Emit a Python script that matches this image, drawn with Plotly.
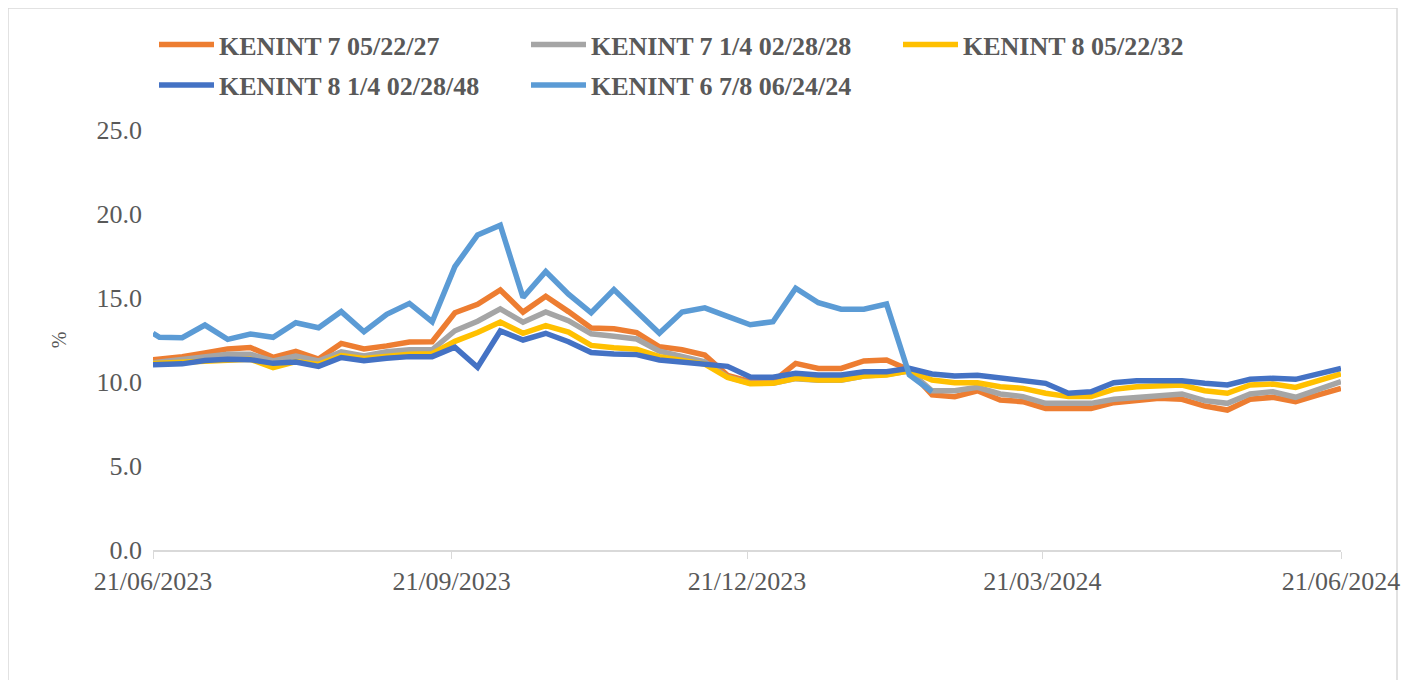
import plotly.graph_objects as go

# ---------------- data ----------------
dates = [
    "2023-06-21", "2023-06-23", "2023-06-30", "2023-07-07", "2023-07-14", "2023-07-21",
    "2023-07-28", "2023-08-04", "2023-08-11", "2023-08-18", "2023-08-25", "2023-09-01",
    "2023-09-08", "2023-09-15", "2023-09-22", "2023-09-29", "2023-10-06", "2023-10-13",
    "2023-10-20", "2023-10-27", "2023-11-03", "2023-11-10", "2023-11-17", "2023-11-24",
    "2023-12-01", "2023-12-08", "2023-12-15", "2023-12-22", "2023-12-29", "2024-01-05",
    "2024-01-12", "2024-01-19", "2024-01-26", "2024-02-02", "2024-02-09", "2024-02-16",
    "2024-02-23", "2024-03-01", "2024-03-08", "2024-03-15", "2024-03-22", "2024-03-29",
    "2024-04-05", "2024-04-12", "2024-04-19", "2024-04-26", "2024-05-03", "2024-05-10",
    "2024-05-17", "2024-05-24", "2024-05-31", "2024-06-07", "2024-06-14", "2024-06-21",
]

kenint_7_27 = [
    11.33, 11.37, 11.50, 11.73, 11.97, 12.05, 11.47, 11.83, 11.37, 12.30, 11.97, 12.15,
    12.38, 12.40, 14.12, 14.63, 15.48, 14.16, 15.10, 14.19, 13.21, 13.17, 12.94, 12.10,
    11.92, 11.60, 10.40, 10.02, 10.02, 11.11, 10.81, 10.81, 11.25, 11.31, 10.71, 9.23,
    9.13, 9.48, 8.93, 8.83, 8.43, 8.43, 8.43, 8.77, 8.93, 9.03, 8.97, 8.57,
    8.33, 8.97, 9.09, 8.83, 9.23, 9.62,
]
kenint_714_28 = [
    11.15, 11.20, 11.30, 11.55, 11.65, 11.65, 11.25, 11.55, 11.25, 11.80, 11.55, 11.80,
    11.92, 11.92, 13.05, 13.62, 14.35, 13.56, 14.17, 13.65, 12.87, 12.73, 12.56, 11.84,
    11.55, 11.20, 10.30, 9.92, 9.92, 10.20, 10.10, 10.10, 10.35, 10.45, 10.65, 9.48,
    9.48, 9.68, 9.29, 9.13, 8.73, 8.73, 8.73, 8.97, 9.09, 9.23, 9.29, 8.89,
    8.73, 9.29, 9.42, 9.09, 9.56, 10.02,
]
kenint_8_32 = [
    11.10, 11.12, 11.15, 11.27, 11.35, 11.35, 10.85, 11.22, 11.05, 11.58, 11.40, 11.55,
    11.65, 11.68, 12.42, 12.95, 13.57, 12.90, 13.36, 12.97, 12.18, 12.04, 11.95, 11.51,
    11.33, 11.07, 10.27, 9.90, 9.92, 10.22, 10.12, 10.12, 10.36, 10.42, 10.67, 10.12,
    9.96, 9.96, 9.72, 9.62, 9.33, 9.13, 9.13, 9.56, 9.72, 9.76, 9.82, 9.48,
    9.33, 9.82, 9.88, 9.68, 10.08, 10.48,
]
kenint_814_48 = [
    11.03, 11.05, 11.08, 11.28, 11.36, 11.33, 11.11, 11.19, 10.93, 11.46, 11.26, 11.41,
    11.51, 11.51, 12.07, 10.88, 13.04, 12.50, 12.90, 12.40, 11.76, 11.66, 11.63, 11.31,
    11.21, 11.04, 10.93, 10.30, 10.28, 10.52, 10.42, 10.42, 10.61, 10.61, 10.81, 10.48,
    10.36, 10.40, 10.22, 10.12, 9.92, 9.33, 9.42, 9.96, 10.08, 10.08, 10.08, 9.92,
    9.82, 10.16, 10.22, 10.16, 10.52, 10.81,
]
kenint_678_24 = [
    12.90, 12.66, 12.64, 13.39, 12.54, 12.86, 12.66, 13.53, 13.23, 14.19, 12.99, 14.03,
    14.68, 13.59, 16.87, 18.75, 19.33, 15.03, 16.58, 15.23, 14.12, 15.50, 14.20, 12.90,
    14.17, 14.41, 13.91, 13.41, 13.59, 15.58, 14.72, 14.33, 14.33, 14.64, 10.42, 9.42,
]

series_names = [
    "KENINT 7 05/22/27",
    "KENINT 7 1/4 02/28/28",
    "KENINT 8 05/22/32",
    "KENINT 8 1/4 02/28/48",
    "KENINT 6 7/8 06/24/24",
]
series_values = [kenint_7_27, kenint_714_28, kenint_8_32, kenint_814_48, kenint_678_24]
series_colors = ["#ED7D31", "#A5A5A5", "#FFC000", "#4472C4", "#5B9BD5"]
series_legend = ["legend", "legend", "legend", "legend2", "legend2"]

x_tick_dates = ["2023-06-21", "2023-09-21", "2023-12-21", "2024-03-21", "2024-06-21"]
x_tick_labels = ["21/06/2023", "21/09/2023", "21/12/2023", "21/03/2024", "21/06/2024"]
y_ticks = [0, 5, 10, 15, 20, 25]

# ---------------- figure ----------------
FONT = "Liberation Serif, Times New Roman, serif"
TXT = "#595959"

W, H = 1415, 680
OFF = 8  # page body offset of the figure
L, T = 153 - OFF, 130 - OFF
R = W - (1341 - OFF)
B = H - (550 - OFF)
pw, ph = W - L - R, H - T - B


def px_x(x):
    return (x - OFF - L) / pw


def px_y(y):
    return (H - B - (y - OFF)) / ph


fig = go.Figure()
for name, vals, col, lg in zip(series_names, series_values, series_colors, series_legend):
    fig.add_trace(go.Scatter(
        x=dates[:len(vals)], y=vals, name=name, mode="lines",
        line=dict(color=col, width=5.5), legend=lg,
    ))

legend_common = dict(
    orientation="h", xanchor="left", yanchor="middle",
    font=dict(family=FONT, size=26, color=TXT, weight="bold"),
    itemwidth=55, entrywidth=302, entrywidthmode="pixels",
    bgcolor="rgba(0,0,0,0)", borderwidth=0, traceorder="normal",
)

fig.update_layout(
    width=W, height=H,
    margin=dict(l=L, r=R, t=T, b=B, autoexpand=False),
    paper_bgcolor="white", plot_bgcolor="white",
    font=dict(family=FONT, size=26, color=TXT),
    legend=dict(x=px_x(154), y=px_y(44.7), **legend_common),
    legend2=dict(x=px_x(154), y=px_y(85.2), **legend_common),
    xaxis=dict(
        type="date", range=["2023-06-21", "2024-06-21"],
        tickvals=x_tick_dates, ticktext=x_tick_labels,
        showgrid=False, zeroline=False,
        showline=True, linecolor="#D9D9D9", linewidth=2,
        ticks="outside", ticklen=7, tickwidth=1, tickcolor="#D9D9D9",
        tickfont=dict(family=FONT, size=26, color=TXT),
        ticklabelstandoff=0,
    ),
    yaxis=dict(
        range=[0, 25], tickvals=y_ticks, tickformat=".1f",
        showgrid=False, zeroline=False, showline=False, ticks="",
        tickfont=dict(family=FONT, size=26, color=TXT),
        ticklabelstandoff=10,
        title=dict(text="%", font=dict(family=FONT, size=20, color=TXT), standoff=24),
    ),
    shapes=[dict(
        type="rect", xref="paper", yref="paper",
        x0=px_x(8), x1=px_x(1397), y0=px_y(720), y1=px_y(8),
        line=dict(color="#D9D9D9", width=1.5), fillcolor="rgba(0,0,0,0)", layer="below",
    )],
)

fig.write_html("out.html")
